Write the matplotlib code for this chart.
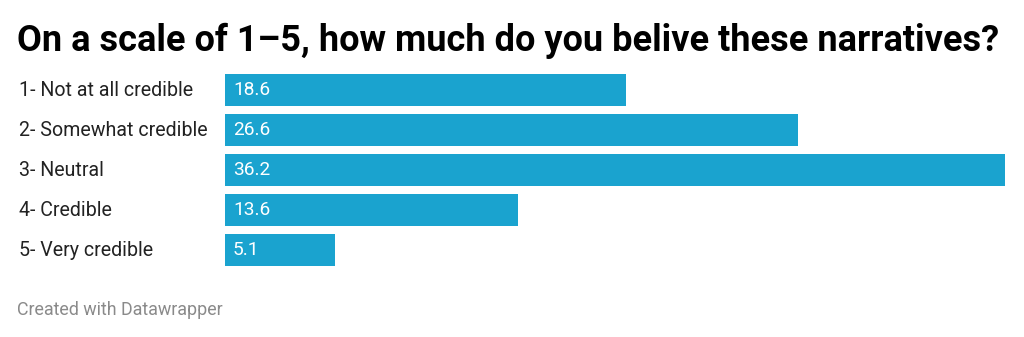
import matplotlib.pyplot as plt
from matplotlib.transforms import blended_transform_factory


categories = [
    "1- Not at all credible",
    "2- Somewhat credible",
    "3- Neutral",
    "4- Credible",
    "5- Very credible",
]
values = [18.6, 26.6, 36.2, 13.6, 5.1]

TITLE = "On a scale of 1\u20135, how much do you belive these narratives?"
FOOTER = "Created with Datawrapper"
BAR_COLOR = "#1aa3cf"

W, H = 1024, 337

plt.rcParams["font.family"] = ["Roboto", "DejaVu Sans"]

fig = plt.figure(figsize=(W / 100, H / 100), dpi=100)

# axes placed in pixel units: bars span x 225..1005, y 74..266
left, right = 225, 1005
top, bottom = 74, 266
ax = fig.add_axes([left / W, 1 - bottom / H, (right - left) / W, (bottom - top) / H])

positions = list(range(len(values)))
ax.barh(positions, values, height=0.8, color=BAR_COLOR, edgecolor="none")
ax.set_xlim(0, max(values))
ax.set_ylim(len(values) - 0.6, -0.4)
ax.axis("off")

for pos, val in zip(positions, values):
    ax.annotate(
        f"{val:.1f}",
        xy=(0, pos),
        xytext=(8, 0),
        textcoords="offset pixels",
        va="center",
        ha="left",
        color="white",
        fontsize=13.8,
    )

label_tf = blended_transform_factory(fig.transFigure, ax.transData)
for pos, cat in zip(positions, categories):
    ax.text(
        19 / W,
        pos,
        cat,
        transform=label_tf,
        va="center",
        ha="left",
        color="#222222",
        fontsize=14.1,
    )

fig.text(
    17 / W,
    1 - 41 / H,
    TITLE,
    fontsize=26,
    fontweight="bold",
    color="#000000",
    va="center",
    ha="left",
)

fig.text(
    17 / W,
    1 - 310 / H,
    FOOTER,
    fontsize=12.9,
    color="#8a8a8a",
    va="center",
    ha="left",
)

fig.savefig("out.png", dpi=100)
plt.close(fig)
